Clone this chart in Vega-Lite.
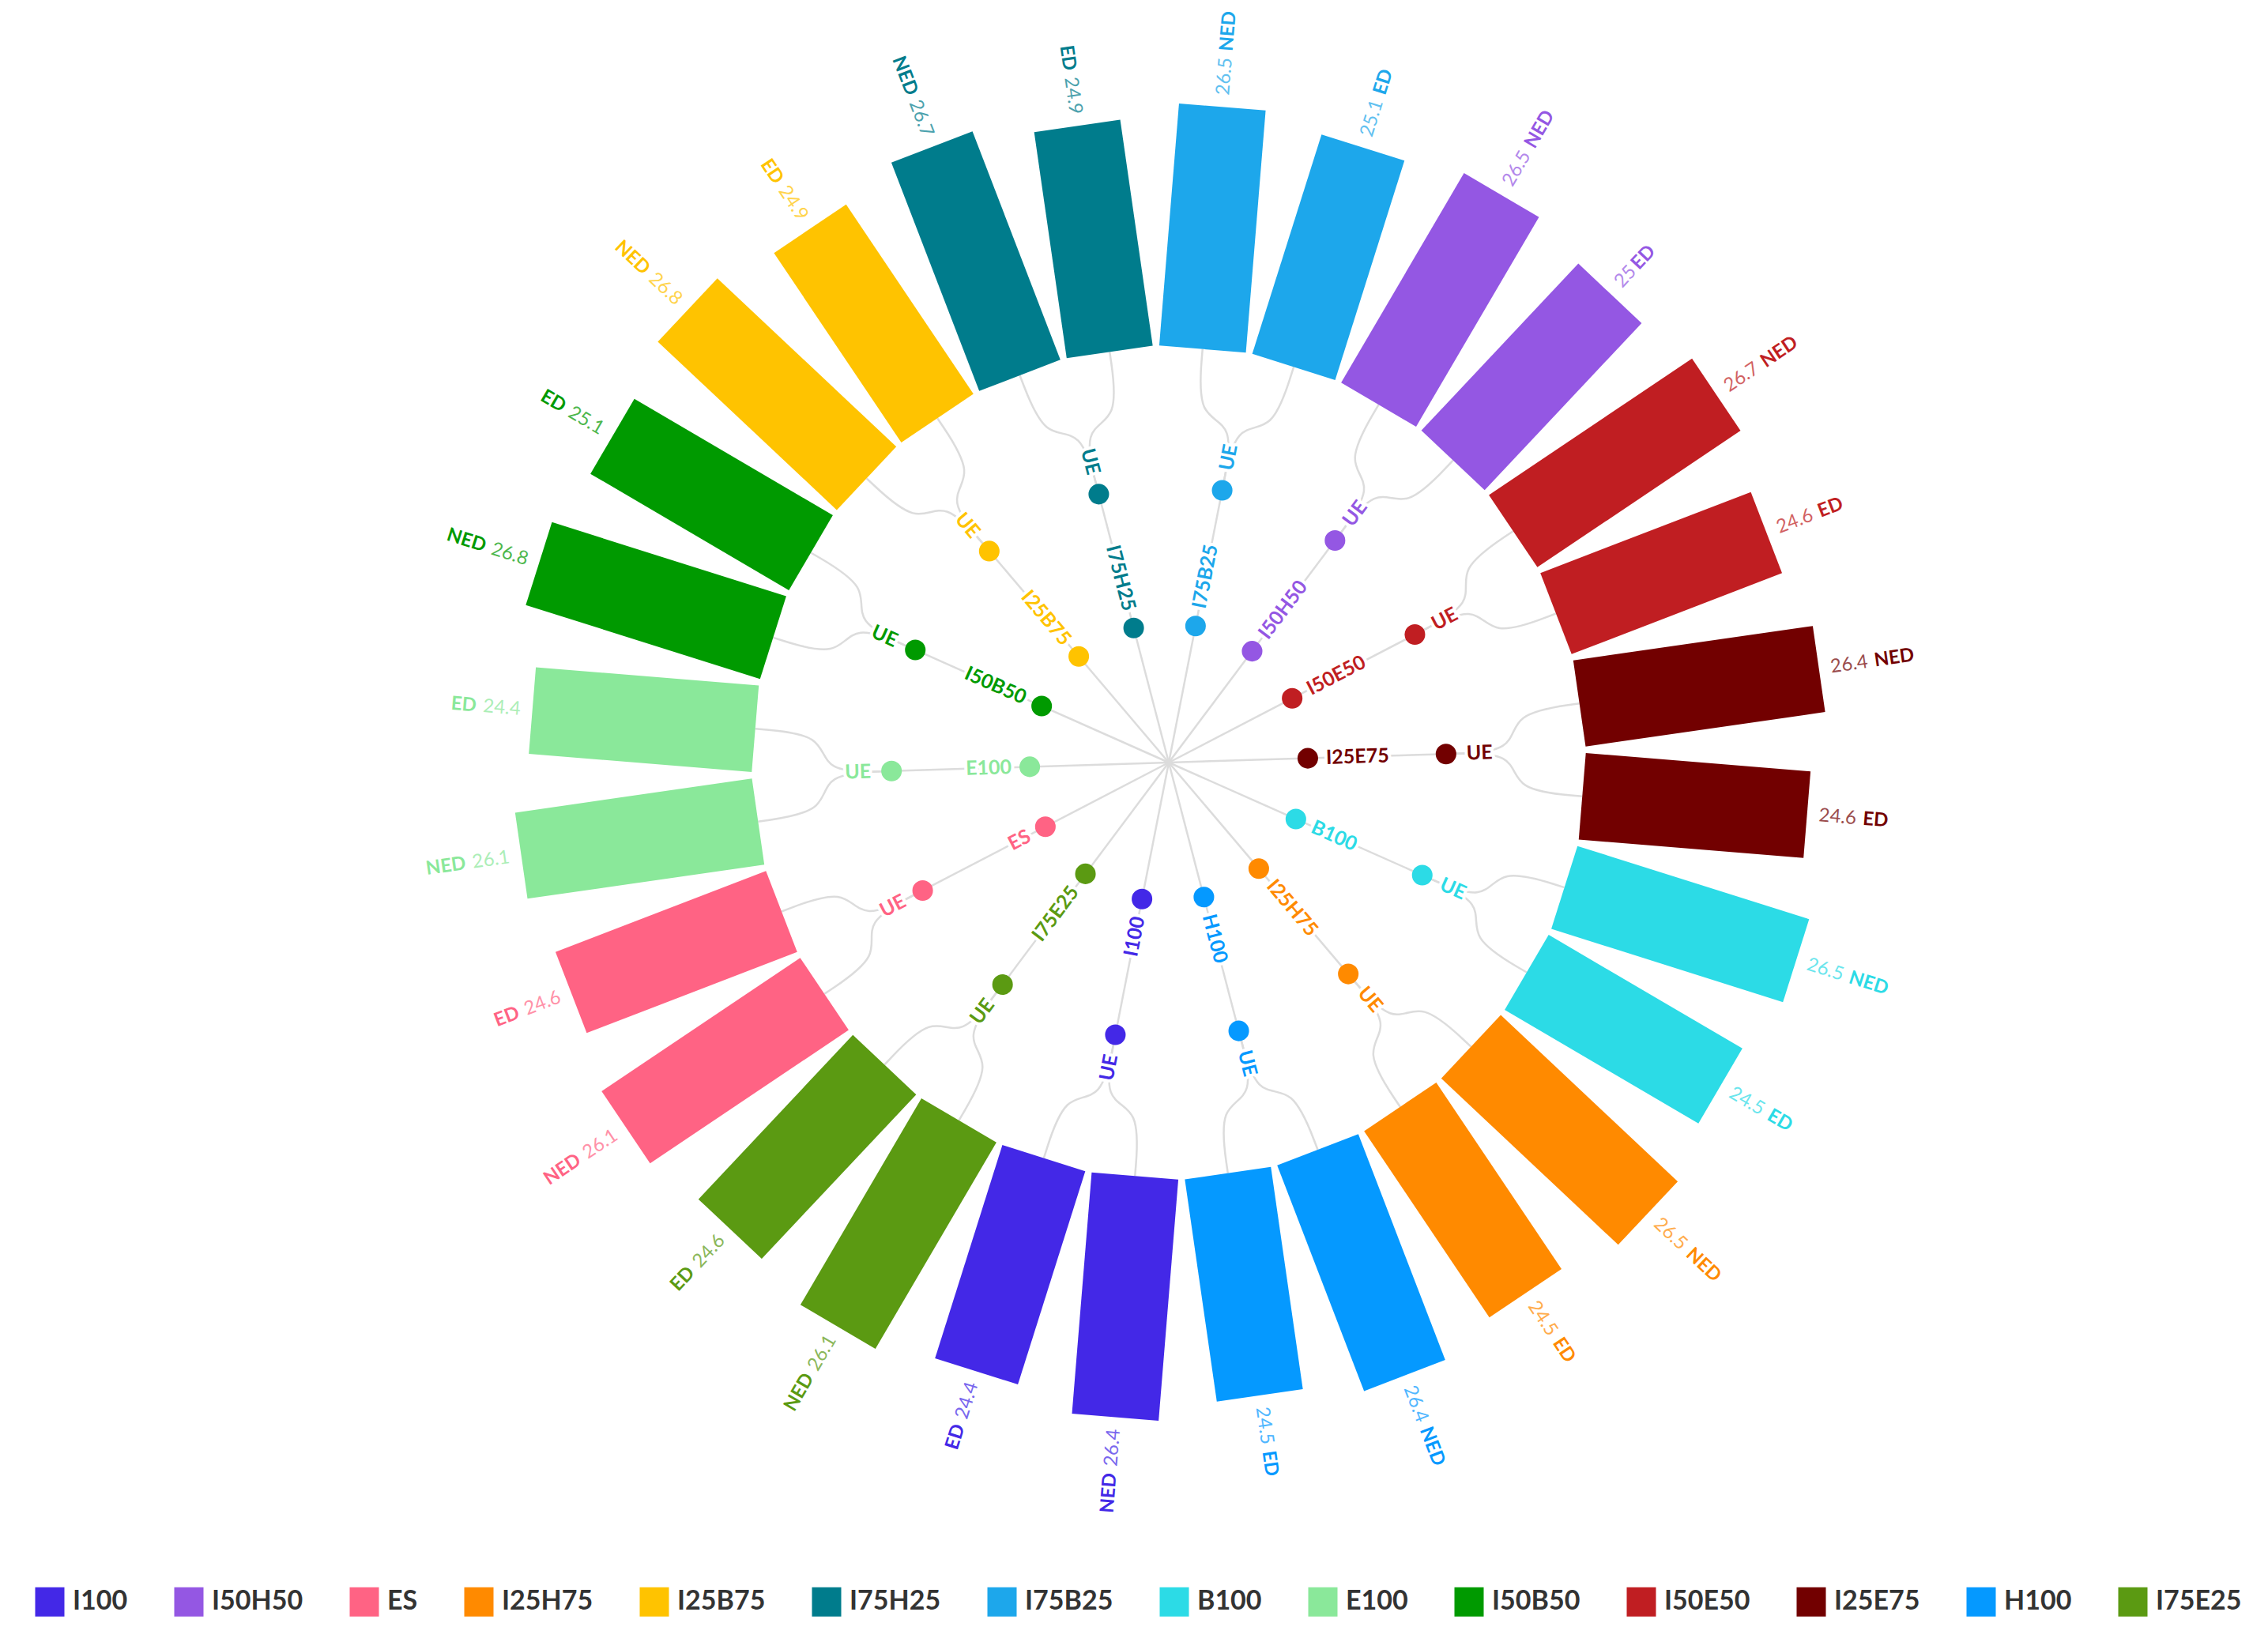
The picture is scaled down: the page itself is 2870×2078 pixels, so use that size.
{
  "$schema": "https://vega.github.io/schema/vega-lite/v6.json",
  "width": 2870,
  "height": 2078,
  "autosize": {"type": "none"},
  "padding": 0,
  "background": "white",
  "config": {"view": {"stroke": null}, "font": "Lato"},
  "resolve": {"legend": {"color": "independent"}},
  "data": {
    "values": [
      {"cat": "I75B25", "leaf": "NED", "value": 26.5},
      {"cat": "I75B25", "leaf": "ED", "value": 25.1},
      {"cat": "I50H50", "leaf": "NED", "value": 26.5},
      {"cat": "I50H50", "leaf": "ED", "value": 25},
      {"cat": "I50E50", "leaf": "NED", "value": 26.7},
      {"cat": "I50E50", "leaf": "ED", "value": 24.6},
      {"cat": "I25E75", "leaf": "NED", "value": 26.4},
      {"cat": "I25E75", "leaf": "ED", "value": 24.6},
      {"cat": "B100", "leaf": "NED", "value": 26.5},
      {"cat": "B100", "leaf": "ED", "value": 24.5},
      {"cat": "I25H75", "leaf": "NED", "value": 26.5},
      {"cat": "I25H75", "leaf": "ED", "value": 24.5},
      {"cat": "H100", "leaf": "NED", "value": 26.4},
      {"cat": "H100", "leaf": "ED", "value": 24.5},
      {"cat": "I100", "leaf": "NED", "value": 26.4},
      {"cat": "I100", "leaf": "ED", "value": 24.4},
      {"cat": "I75E25", "leaf": "NED", "value": 26.1},
      {"cat": "I75E25", "leaf": "ED", "value": 24.6},
      {"cat": "ES", "leaf": "NED", "value": 26.1},
      {"cat": "ES", "leaf": "ED", "value": 24.6},
      {"cat": "E100", "leaf": "NED", "value": 26.1},
      {"cat": "E100", "leaf": "ED", "value": 24.4},
      {"cat": "I50B50", "leaf": "NED", "value": 26.8},
      {"cat": "I50B50", "leaf": "ED", "value": 25.1},
      {"cat": "I25B75", "leaf": "NED", "value": 26.8},
      {"cat": "I25B75", "leaf": "ED", "value": 24.9},
      {"cat": "I75H25", "leaf": "NED", "value": 26.7},
      {"cat": "I75H25", "leaf": "ED", "value": 24.9}
    ]
  },
  "transform": [
    {"window": [{"op": "row_number", "as": "rn"}]},
    {"calculate": "datum.rn - 1", "as": "idx"},
    {"calculate": "floor(datum.idx / 2)", "as": "k"},
    {"calculate": "4.67 + datum.idx * 360 / 28", "as": "degB"},
    {"calculate": "11.1 + datum.k * 360 / 14", "as": "degC"},
    {"calculate": "datum.degB * PI / 180", "as": "tb"},
    {"calculate": "datum.degC * PI / 180", "as": "tc"},
    {"calculate": "525 + datum.value * 11.6", "as": "outer"},
    {"calculate": "'' + datum.value", "as": "vstr"}
  ],
  "encoding": {
    "x": {"field": "px", "type": "quantitative", "scale": {"domain": [-1479, 1391], "nice": false, "zero": false}, "axis": null},
    "y": {"field": "py", "type": "quantitative", "scale": {"domain": [-965, 1113], "nice": false, "zero": false, "reverse": true}, "axis": null},
    "color": {
      "field": "cat", "type": "nominal",
      "scale": {
        "domain": ["I100", "I50H50", "ES", "I25H75", "I25B75", "I75H25", "I75B25", "B100", "E100", "I50B50", "I50E50", "I25E75", "H100", "I75E25"],
        "range": ["#4328E7", "#9457E3", "#FF6384", "#FF8A00", "#FFC300", "#007C8C", "#1DA7EB", "#2CDBE6", "#8AE89A", "#009A00", "#C01E22", "#720000", "#0599FF", "#5B9A12"]
      },
      "legend": null
    }
  },
  "layer": [
    {
      "transform": [
        {"filter": "datum.leaf == 'NED'"},
        {"calculate": "0", "as": "px"},
        {"calculate": "0", "as": "py"},
        {"calculate": "351 * sin(datum.tc)", "as": "px2"},
        {"calculate": "-351 * cos(datum.tc)", "as": "py2"}
      ],
      "mark": {"type": "rule", "strokeWidth": 2.5},
      "encoding": {
        "x2": {"field": "px2"},
        "y2": {"field": "py2"},
        "color": {"value": "#dcdcdc"}
      }
    },
    {
      "transform": [
        {"calculate": "[0, 1, 2, 3]", "as": "st"},
        {"flatten": ["st"]},
        {"calculate": "datum.st == 0 ? 351 : (datum.st == 3 ? 525 : 438)", "as": "rr"},
        {"calculate": "datum.st < 2 ? datum.tc : datum.tb", "as": "tt"},
        {"calculate": "datum.rr * sin(datum.tt)", "as": "px"},
        {"calculate": "-datum.rr * cos(datum.tt)", "as": "py"}
      ],
      "mark": {"type": "line", "interpolate": "basis", "strokeWidth": 2.5},
      "encoding": {
        "detail": {"field": "idx", "type": "nominal"},
        "order": {"field": "st", "type": "quantitative"},
        "color": {"value": "#dcdcdc"}
      }
    },
    {
      "transform": [
        {"calculate": "525 * sin(datum.tb)", "as": "px"},
        {"calculate": "-525 * cos(datum.tb)", "as": "py"},
        {"calculate": "datum.outer * sin(datum.tb)", "as": "px2"},
        {"calculate": "-datum.outer * cos(datum.tb)", "as": "py2"}
      ],
      "mark": {"type": "rule", "strokeWidth": 110, "strokeCap": "butt"},
      "encoding": {
        "x2": {"field": "px2"},
        "y2": {"field": "py2"}
      }
    },
    {
      "transform": [
        {"filter": "datum.leaf == 'NED'"},
        {"calculate": "176 * sin(datum.tc)", "as": "px"},
        {"calculate": "-176 * cos(datum.tc)", "as": "py"}
      ],
      "mark": {"type": "point", "filled": true, "size": 680, "opacity": 1},
      "encoding": {
        "color": {
          "field": "cat", "type": "nominal",
          "scale": {
            "domain": ["I100", "I50H50", "ES", "I25H75", "I25B75", "I75H25", "I75B25", "B100", "E100", "I50B50", "I50E50", "I25E75", "H100", "I75E25"],
            "range": ["#4328E7", "#9457E3", "#FF6384", "#FF8A00", "#FFC300", "#007C8C", "#1DA7EB", "#2CDBE6", "#8AE89A", "#009A00", "#C01E22", "#720000", "#0599FF", "#5B9A12"]
          },
          "legend": {
            "orient": "none", "legendX": 44, "legendY": 2008,
            "direction": "horizontal", "columns": 14, "title": null,
            "symbolType": "square", "symbolSize": 1370, "symbolStrokeWidth": 0, "symbolOpacity": 1,
            "labelFontSize": 34, "labelFont": "Lato", "labelFontWeight": "bold", "labelColor": "#333333",
            "labelOffset": 10, "columnPadding": 58, "padding": 0, "labelLimit": 0
          }
        }
      }
    },
    {
      "transform": [
        {"filter": "datum.leaf == 'NED'"},
        {"calculate": "351 * sin(datum.tc)", "as": "px"},
        {"calculate": "-351 * cos(datum.tc)", "as": "py"}
      ],
      "mark": {"type": "point", "filled": true, "size": 680, "opacity": 1}
    },
    {
      "transform": [
        {"filter": "datum.leaf == 'NED' && datum.degC < 180"},
        {"calculate": "199 * sin(datum.tc)", "as": "px"},
        {"calculate": "-199 * cos(datum.tc)", "as": "py"},
        {"calculate": "datum.degC - 90", "as": "ang"}
      ],
      "mark": {"type": "text", "align": "left", "baseline": "middle", "fontSize": 25, "fontWeight": "bold", "stroke": "white", "strokeWidth": 8, "strokeJoin": "round"},
      "encoding": {"text": {"field": "cat"}, "angle": {"field": "ang", "type": "quantitative", "scale": null}, "color": {"value": "white"}}
    },
    {
      "transform": [
        {"filter": "datum.leaf == 'NED' && datum.degC >= 180"},
        {"calculate": "199 * sin(datum.tc)", "as": "px"},
        {"calculate": "-199 * cos(datum.tc)", "as": "py"},
        {"calculate": "datum.degC + 90", "as": "ang"}
      ],
      "mark": {"type": "text", "align": "right", "baseline": "middle", "fontSize": 25, "fontWeight": "bold", "stroke": "white", "strokeWidth": 8, "strokeJoin": "round"},
      "encoding": {"text": {"field": "cat"}, "angle": {"field": "ang", "type": "quantitative", "scale": null}, "color": {"value": "white"}}
    },
    {
      "transform": [
        {"filter": "datum.leaf == 'NED' && datum.degC < 180"},
        {"calculate": "377 * sin(datum.tc)", "as": "px"},
        {"calculate": "-377 * cos(datum.tc)", "as": "py"},
        {"calculate": "datum.degC - 90", "as": "ang"}
      ],
      "mark": {"type": "text", "align": "left", "baseline": "middle", "fontSize": 25, "fontWeight": "bold", "stroke": "white", "strokeWidth": 8, "strokeJoin": "round"},
      "encoding": {"text": {"value": "UE"}, "angle": {"field": "ang", "type": "quantitative", "scale": null}, "color": {"value": "white"}}
    },
    {
      "transform": [
        {"filter": "datum.leaf == 'NED' && datum.degC >= 180"},
        {"calculate": "377 * sin(datum.tc)", "as": "px"},
        {"calculate": "-377 * cos(datum.tc)", "as": "py"},
        {"calculate": "datum.degC + 90", "as": "ang"}
      ],
      "mark": {"type": "text", "align": "right", "baseline": "middle", "fontSize": 25, "fontWeight": "bold", "stroke": "white", "strokeWidth": 8, "strokeJoin": "round"},
      "encoding": {"text": {"value": "UE"}, "angle": {"field": "ang", "type": "quantitative", "scale": null}, "color": {"value": "white"}}
    },
    {
      "transform": [
        {"filter": "datum.leaf == 'NED' && datum.degC < 180"},
        {"calculate": "199 * sin(datum.tc)", "as": "px"},
        {"calculate": "-199 * cos(datum.tc)", "as": "py"},
        {"calculate": "datum.degC - 90", "as": "ang"}
      ],
      "mark": {"type": "text", "align": "left", "baseline": "middle", "fontSize": 25, "fontWeight": "bold"},
      "encoding": {"text": {"field": "cat"}, "angle": {"field": "ang", "type": "quantitative", "scale": null}}
    },
    {
      "transform": [
        {"filter": "datum.leaf == 'NED' && datum.degC >= 180"},
        {"calculate": "199 * sin(datum.tc)", "as": "px"},
        {"calculate": "-199 * cos(datum.tc)", "as": "py"},
        {"calculate": "datum.degC + 90", "as": "ang"}
      ],
      "mark": {"type": "text", "align": "right", "baseline": "middle", "fontSize": 25, "fontWeight": "bold"},
      "encoding": {"text": {"field": "cat"}, "angle": {"field": "ang", "type": "quantitative", "scale": null}}
    },
    {
      "transform": [
        {"filter": "datum.leaf == 'NED' && datum.degC < 180"},
        {"calculate": "377 * sin(datum.tc)", "as": "px"},
        {"calculate": "-377 * cos(datum.tc)", "as": "py"},
        {"calculate": "datum.degC - 90", "as": "ang"}
      ],
      "mark": {"type": "text", "align": "left", "baseline": "middle", "fontSize": 25, "fontWeight": "bold"},
      "encoding": {"text": {"value": "UE"}, "angle": {"field": "ang", "type": "quantitative", "scale": null}}
    },
    {
      "transform": [
        {"filter": "datum.leaf == 'NED' && datum.degC >= 180"},
        {"calculate": "377 * sin(datum.tc)", "as": "px"},
        {"calculate": "-377 * cos(datum.tc)", "as": "py"},
        {"calculate": "datum.degC + 90", "as": "ang"}
      ],
      "mark": {"type": "text", "align": "right", "baseline": "middle", "fontSize": 25, "fontWeight": "bold"},
      "encoding": {"text": {"value": "UE"}, "angle": {"field": "ang", "type": "quantitative", "scale": null}}
    },
    {
      "transform": [
        {"filter": "datum.degB < 180"},
        {"calculate": "(datum.outer + 15) * sin(datum.tb)", "as": "px"},
        {"calculate": "-(datum.outer + 15) * cos(datum.tb)", "as": "py"},
        {"calculate": "datum.degB - 90", "as": "ang"}
      ],
      "mark": {"type": "text", "align": "left", "baseline": "middle", "fontSize": 24, "opacity": 0.7},
      "encoding": {"text": {"field": "vstr"}, "angle": {"field": "ang", "type": "quantitative", "scale": null}}
    },
    {
      "transform": [
        {"filter": "datum.degB >= 180"},
        {"calculate": "(datum.outer + 15) * sin(datum.tb)", "as": "px"},
        {"calculate": "-(datum.outer + 15) * cos(datum.tb)", "as": "py"},
        {"calculate": "datum.degB + 90", "as": "ang"}
      ],
      "mark": {"type": "text", "align": "right", "baseline": "middle", "fontSize": 24, "opacity": 0.7},
      "encoding": {"text": {"field": "vstr"}, "angle": {"field": "ang", "type": "quantitative", "scale": null}}
    },
    {
      "transform": [
        {"filter": "datum.degB < 180"},
        {"calculate": "datum.outer + 21 + length(datum.vstr) * 12.5", "as": "rl"},
        {"calculate": "datum.rl * sin(datum.tb)", "as": "px"},
        {"calculate": "-datum.rl * cos(datum.tb)", "as": "py"},
        {"calculate": "datum.degB - 90", "as": "ang"}
      ],
      "mark": {"type": "text", "align": "left", "baseline": "middle", "fontSize": 24, "fontWeight": "bold"},
      "encoding": {"text": {"field": "leaf"}, "angle": {"field": "ang", "type": "quantitative", "scale": null}}
    },
    {
      "transform": [
        {"filter": "datum.degB >= 180"},
        {"calculate": "datum.outer + 21 + length(datum.vstr) * 12.5", "as": "rl"},
        {"calculate": "datum.rl * sin(datum.tb)", "as": "px"},
        {"calculate": "-datum.rl * cos(datum.tb)", "as": "py"},
        {"calculate": "datum.degB + 90", "as": "ang"}
      ],
      "mark": {"type": "text", "align": "right", "baseline": "middle", "fontSize": 24, "fontWeight": "bold"},
      "encoding": {"text": {"field": "leaf"}, "angle": {"field": "ang", "type": "quantitative", "scale": null}}
    }
  ]
}
